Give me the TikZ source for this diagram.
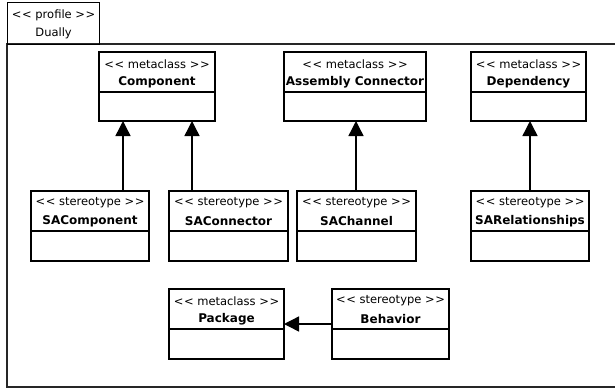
\documentclass[tikz,border=0pt]{standalone}
\usepackage{fontspec}
\newfontfamily\umlfont{DejaVu Sans}
\usetikzlibrary{arrows.meta}

% one unit = 1pt, y grows downwards
\tikzset{
  x=1pt, y=-1pt,
  frameline/.style={draw=black!85, line width=1.3pt},
  classbox/.style={draw=black, line width=1.2pt, fill=white, anchor=north west,
                   inner sep=0pt, outer sep=0pt},
  stereo/.style={font=\umlfont\fontsize{11.5}{13}\selectfont, inner sep=0pt},
  cname/.style={font=\umlfont\bfseries\fontsize{12}{14}\selectfont, inner sep=0pt},
  gen/.style={draw=black, line width=1.4pt,
              -{Triangle[width=15pt,length=15pt]}},
}

% \umlclass{name}{x}{y}{width}{height}{stereotype}{title}
\newcommand{\umlclass}[7]{%
  \node[classbox, minimum width=#4pt, minimum height=#5pt] (#1) at (#2,#3) {};
  \draw[line width=1.2pt] ([yshift=-40pt]#1.north west) -- ([yshift=-40pt]#1.north east);
  \node[stereo] (#1-st) at ([yshift=-12pt]#1.north) {\textless\kern0.6pt\textless\ #6 \textgreater\kern0.6pt\textgreater};
  \node[cname] (#1-nm) at ([yshift=-30pt]#1.north) {#7};
}

\begin{document}
\begin{tikzpicture}
\useasboundingbox (0,0) rectangle (615,389);
\fill[white] (0,0) rectangle (615,389);

% profile package
\draw[frameline] (7,44) rectangle (620,387);
\node[draw=black, line width=1.2pt, anchor=north west, minimum width=92pt,
      minimum height=42pt, inner sep=0pt] (tab) at (7,2) {};
\node[stereo] (tab-st) at ([yshift=-13pt]tab.north) {\textless\kern0.6pt\textless\ profile \textgreater\kern0.6pt\textgreater};
\node[stereo] (tab-nm) at ([yshift=-31pt]tab.north) {Dually};

% metaclasses
\umlclass{comp}{99}{52}{116}{69}{metaclass}{Component}
\umlclass{asm}{284}{52}{142}{69}{metaclass}{Assembly Connector}
\umlclass{dep}{471}{52}{115}{69}{metaclass}{Dependency}

% stereotypes
\umlclass{sacomp}{31}{191}{118}{70}{stereotype}{SAComponent}
\umlclass{saconn}{169}{191}{119}{70}{stereotype}{SAConnector}
\umlclass{sachan}{297}{191}{119}{70}{stereotype}{SAChannel}
\umlclass{sarel}{471}{191}{118}{70}{stereotype}{SARelationships}

\umlclass{pkg}{169}{289}{115}{70}{metaclass}{Package}
\umlclass{beh}{332}{289}{117}{70}{stereotype}{Behavior}

% extensions
\draw[gen] ([xshift=33pt]sacomp.north) -- ([xshift=33pt]sacomp.north |- comp.south);
\draw[gen] ([xshift=-36.5pt]saconn.north) -- ([xshift=-36.5pt]saconn.north |- comp.south);
\draw[gen] ([xshift=-0.5pt]sachan.north) -- ([xshift=-0.5pt]sachan.north |- asm.south);
\draw[gen] (sarel.north) -- (sarel.north |- dep.south);
\draw[gen] (beh.west) -- (pkg.east);
\end{tikzpicture}
\end{document}
